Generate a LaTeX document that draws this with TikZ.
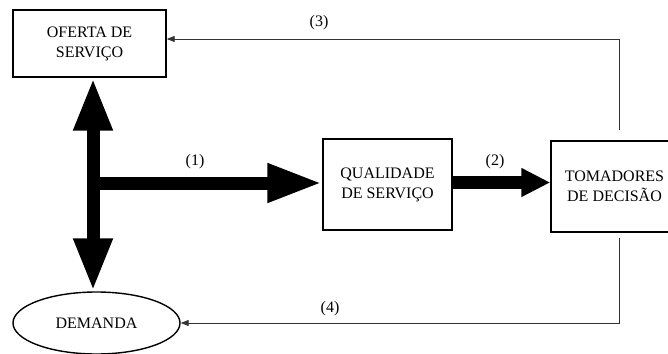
\documentclass[tikz,border=0pt]{standalone}
\usepackage{fontspec}
\setmainfont{Liberation Serif}
\usetikzlibrary{positioning, shapes.geometric, arrows.meta}
\tikzstyle{block} = [rectangle, draw=black, line width=1.4pt, align=center, inner sep=0pt]
\tikzstyle{demand} = [ellipse, draw=black, line width=1.4pt, minimum width=167pt, minimum height=62pt, inner sep=0pt]
\tikzstyle{bigarrow} = [line width=13pt, -{Triangle[length=55pt, width=36pt]}]
\tikzstyle{midarrow} = [line width=13pt, -{Triangle[length=29pt, width=27pt]}]
\tikzstyle{thinarrow} = [draw=black!80, line width=0.9pt, -{Triangle[length=8pt, width=6pt]}]
\tikzstyle{num} = [inner sep=0pt]

\begin{document}
\begin{tikzpicture}[x=1pt, y=-1pt, font=\fontsize{16}{20}\selectfont]
        \useasboundingbox (0,0) rectangle (668,353);
        \clip (0,0) rectangle (668,353);

        \node[block, minimum width=153pt, minimum height=67pt]  (oferta)  at (89.5,43.5)  {OFERTA DE\\SERVIÇO};
        \node[block, minimum width=129pt, minimum height=91pt]  (qual)    at (387.5,184.5) {QUALIDADE\\DE SERVIÇO};
        \node[block, minimum width=127pt, minimum height=91pt]  (toma)    at (614.5,186.5) {TOMADORES\\DE DECISÃO};
        \node[demand]                                            (demanda) at (96.5,323)    {DEMANDA};
        \coordinate (jn) at (93,183);

        \node[num] (n1) at (195,162) {(1)};
        \node[num] (n2) at (495,162) {(2)};
        \node[num] (n3) at (319,23)  {(3)};
        \node[num] (n4) at (330,309) {(4)};

        \draw[line width=13pt, {Triangle[length=53pt, width=36pt]}-{Triangle[length=53pt, width=36pt]}] (jn |- oferta.south) -- (jn |- demanda.north);
        \draw[bigarrow] (jn) -- (jn -| qual.west);
        \draw[midarrow] ([yshift=2pt]qual.east) -- ([yshift=2pt]qual.east -| toma.west);
        \draw[thinarrow] ([xshift=4.5pt, yshift=10pt]toma.north) |- ([yshift=4.5pt]oferta.east);
        \draw[thinarrow] ([xshift=4.5pt, yshift=-5pt]toma.south) |- (demanda.east);
    \end{tikzpicture}
\end{document}
